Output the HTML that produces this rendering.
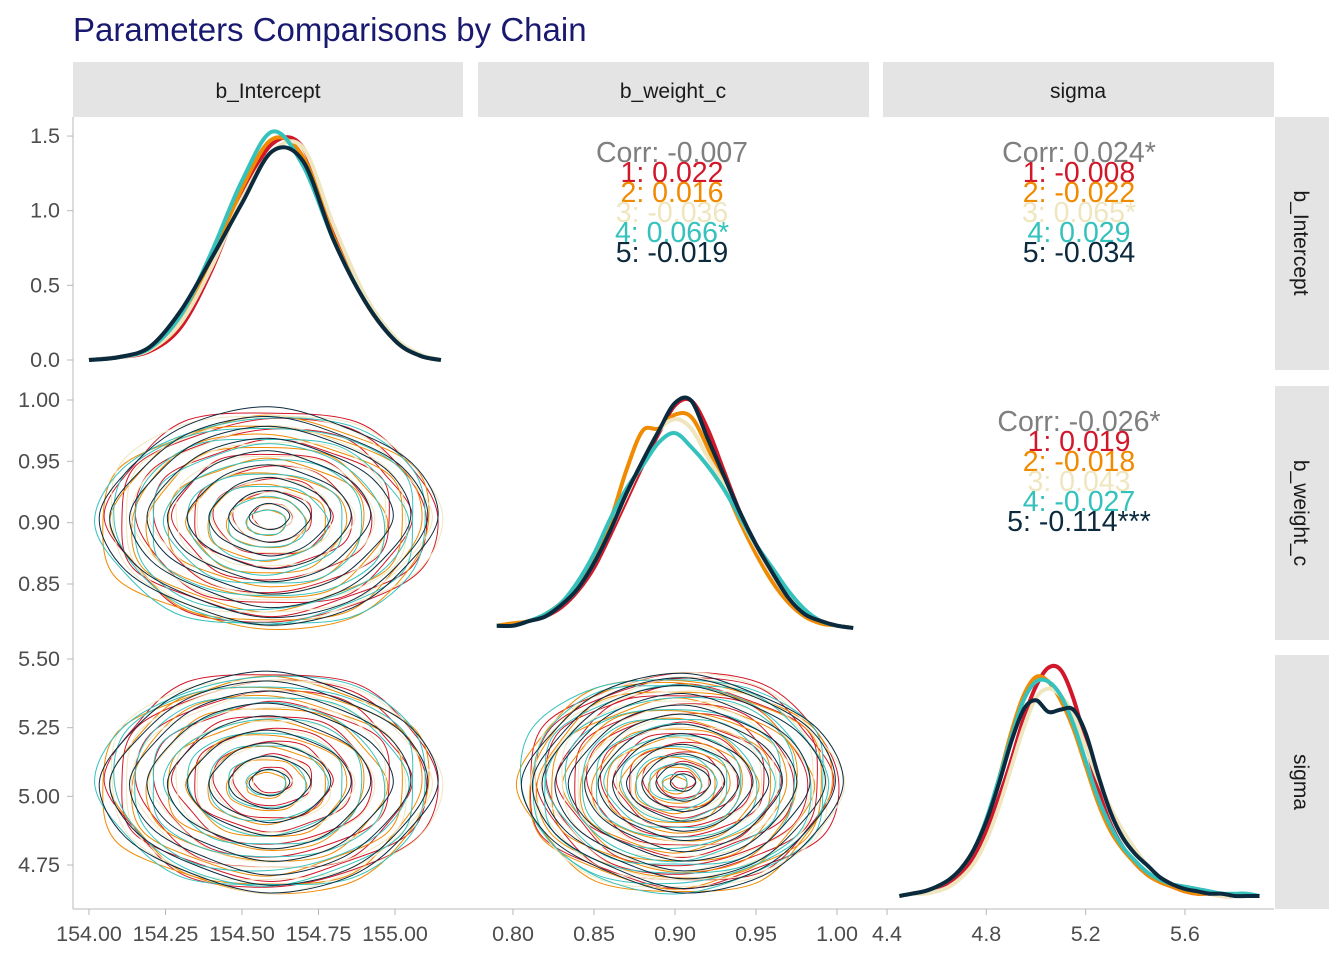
<!DOCTYPE html>
<html><head><meta charset="utf-8">
<style>
html,body{margin:0;padding:0;background:#fff;}
svg{display:block;font-family:"Liberation Sans",Arial,sans-serif;}
</style></head>
<body>
<svg id="chart" width="1344" height="960" viewBox="0 0 1344 960">
<text x="73" y="41" font-size="33" fill="#191970">Parameters Comparisons by Chain</text>
<g id="strips">
 <rect x="73" y="62" width="390" height="55" fill="#e4e4e4"/>
 <text x="268" y="98" font-size="21" text-anchor="middle" fill="#1a1a1a">b_Intercept</text>
 <rect x="478" y="62" width="391" height="55" fill="#e4e4e4"/>
 <text x="673" y="98" font-size="21" text-anchor="middle" fill="#1a1a1a">b_weight_c</text>
 <rect x="883" y="62" width="391" height="55" fill="#e4e4e4"/>
 <text x="1078" y="98" font-size="21" text-anchor="middle" fill="#1a1a1a">sigma</text>
 <rect x="1275" y="117" width="54" height="253" fill="#e4e4e4"/>
 <text transform="translate(1294,243) rotate(90)" font-size="21" text-anchor="middle" fill="#1a1a1a">b_Intercept</text>
 <rect x="1275" y="386" width="54" height="254" fill="#e4e4e4"/>
 <text transform="translate(1294,513) rotate(90)" font-size="21" text-anchor="middle" fill="#1a1a1a">b_weight_c</text>
 <rect x="1275" y="655" width="54" height="254" fill="#e4e4e4"/>
 <text transform="translate(1294,782) rotate(90)" font-size="21" text-anchor="middle" fill="#1a1a1a">sigma</text>
</g>
<g id="axes">
 <line x1="73" y1="117" x2="73" y2="909" stroke="#b8b8b8" stroke-width="1"/>
 <line x1="73" y1="909" x2="1274" y2="909" stroke="#b8b8b8" stroke-width="1"/>
</g>
<g id="marks"></g>
<g id="ticks"></g>
<g id="corr"></g>
</svg>
<script>
const chainColors=['#D2172A','#F08A00','#EFE6C0','#35C2BD','#0C2A3E'];
// b_Intercept density
const dxInt=[154.0,154.1,154.2,154.3,154.4,154.5,154.6,154.7,154.8,154.9,155.0,155.08,155.15];
const dInt1=[0,0.02,0.06,0.22,0.6,1.1,1.45,1.42,0.85,0.4,0.13,0.03,0];
const dInt2=[0,0.02,0.07,0.25,0.65,1.15,1.48,1.36,0.82,0.4,0.13,0.03,0];
const dInt3=[0,0.02,0.07,0.25,0.62,1.08,1.4,1.42,0.9,0.44,0.15,0.04,0];
const dInt4=[0,0.02,0.08,0.3,0.72,1.2,1.53,1.3,0.8,0.4,0.13,0.03,0];
const dInt5=[0,0.02,0.09,0.33,0.68,1.05,1.4,1.33,0.8,0.4,0.13,0.03,0];
// b_weight_c density (normalized)
const dxW=[0.79,0.80,0.81,0.82,0.83,0.84,0.85,0.86,0.87,0.88,0.89,0.90,0.91,0.92,0.93,0.94,0.95,0.96,0.97,0.98,0.99,1.00,1.01];
const dW1=[0.01,0.01,0.03,0.05,0.09,0.16,0.26,0.4,0.55,0.7,0.84,0.96,0.98,0.86,0.68,0.5,0.35,0.22,0.12,0.06,0.03,0.01,0];
const dW2=[0.01,0.02,0.03,0.06,0.11,0.19,0.3,0.46,0.68,0.85,0.86,0.92,0.91,0.78,0.62,0.46,0.32,0.2,0.11,0.05,0.02,0.01,0];
const dW3=[0.01,0.01,0.03,0.05,0.1,0.17,0.28,0.42,0.57,0.72,0.85,0.9,0.86,0.74,0.62,0.48,0.35,0.23,0.13,0.06,0.03,0.01,0];
const dW4=[0.01,0.01,0.03,0.06,0.11,0.2,0.32,0.47,0.6,0.7,0.8,0.84,0.78,0.7,0.6,0.48,0.36,0.26,0.16,0.08,0.03,0.01,0];
const dW5=[0.01,0.01,0.03,0.05,0.1,0.17,0.28,0.42,0.58,0.72,0.85,0.97,0.98,0.82,0.66,0.5,0.36,0.24,0.13,0.06,0.03,0.01,0];
// sigma density (normalized)
const dxS=[4.45,4.5,4.55,4.6,4.65,4.7,4.75,4.8,4.85,4.9,4.95,5.0,5.05,5.1,5.15,5.2,5.25,5.3,5.35,5.4,5.45,5.5,5.55,5.6,5.65,5.7,5.75,5.8,5.85,5.9];
const dS1=[0,0.01,0.02,0.03,0.06,0.1,0.17,0.28,0.42,0.58,0.76,0.9,0.98,0.97,0.85,0.66,0.46,0.31,0.21,0.14,0.09,0.06,0.04,0.02,0.01,0.01,0,0,0,0];
const dS2=[0,0.01,0.02,0.04,0.07,0.12,0.2,0.32,0.5,0.7,0.86,0.94,0.92,0.84,0.72,0.56,0.4,0.28,0.2,0.14,0.09,0.06,0.04,0.02,0.01,0.01,0,0,0,0];
const dS3=[0,0.01,0.01,0.02,0.04,0.08,0.14,0.24,0.38,0.55,0.72,0.85,0.89,0.86,0.78,0.64,0.5,0.38,0.28,0.2,0.13,0.08,0.05,0.03,0.02,0.01,0,0,0,0];
const dS4=[0,0.01,0.02,0.04,0.07,0.12,0.2,0.33,0.5,0.68,0.84,0.92,0.92,0.86,0.74,0.58,0.42,0.3,0.21,0.15,0.1,0.07,0.05,0.04,0.03,0.02,0.01,0.01,0.01,0];
const dS5=[0,0.01,0.02,0.04,0.07,0.12,0.2,0.32,0.48,0.66,0.8,0.84,0.79,0.8,0.8,0.7,0.52,0.36,0.25,0.18,0.13,0.08,0.05,0.03,0.02,0.01,0.01,0,0,0];
// contour centers per chain
const ctrInt=[154.6,154.58,154.6,154.58,154.59];
const ctrW=[0.905,0.9,0.905,0.9,0.905];
const ctrS=[5.06,5.04,5.05,5.05,5.05];
const ringLevels=[0.12,0.24,0.36,0.48,0.6,0.72,0.83,0.93,1.0];
const ringLevelsDense=[0.08,0.17,0.26,0.35,0.44,0.53,0.62,0.71,0.8,0.88,0.95,1.0];
const halfInt=0.54, halfW=0.086, halfS=0.39, halfW2=0.096;
const wob=[[1,0.96,1.03,0.98,1.05,0.97,1.02,0.95,1.04,1.0,0.97,1.03],
[0.98,1.04,0.97,1.02,0.95,1.03,0.99,1.05,0.96,1.01,1.04,0.97],
[1.03,0.98,1.01,0.95,1.02,1.05,0.97,1.0,0.98,1.04,0.96,1.02],
[0.96,1.02,1.05,0.99,0.97,1.01,1.04,0.98,1.02,0.95,1.03,1.0],
[1.02,1.0,0.96,1.04,1.0,0.96,1.03,1.01,0.97,1.03,1.0,0.95]];
// correlations
const corrTop=['Corr: -0.007','1: 0.022','2: 0.016','3: -0.036','4: 0.066*','5: -0.019'];
const corrTopR=['Corr: 0.024*','1: -0.008','2: -0.022','3: 0.065*','4: 0.029','5: -0.034'];
const corrMid=['Corr: -0.026*','1: 0.019','2: -0.018','3: 0.043','4: -0.027','5: -0.114***'];
const ticksInt=[154.00,154.25,154.50,154.75,155.00];
const ticksW=[0.80,0.85,0.90,0.95,1.00];
const ticksS=[4.4,4.8,5.2,5.6];
const yTicks1=[0.0,0.5,1.0,1.5];
const yTicks2=[0.85,0.90,0.95,1.00];
const yTicks3=[4.75,5.00,5.25,5.50];

const c1x=v=>89+(v-154)*306, c2x=v=>513+(v-0.8)*1620, c3x=v=>887+(v-4.4)*248.3;
const r1y=v=>360-v*149.3, r2y=v=>400+(1-v)*1226.7, r3y=v=>659+(5.5-v)*274.7;
const dg2=d=>628-d*232, dg3=d=>896-d*233;
const NS='http://www.w3.org/2000/svg';
const marks=document.getElementById('marks'), tk=document.getElementById('ticks'), cg=document.getElementById('corr');
function mk(tag,attrs,parent){const e=document.createElementNS(NS,tag);for(const k in attrs)e.setAttribute(k,attrs[k]);parent.appendChild(e);return e;}
function smooth(p,closed){
 const n=p.length;let d='M'+p[0][0].toFixed(1)+','+p[0][1].toFixed(1);
 const g=i=>closed?p[(i+n)%n]:p[Math.max(0,Math.min(n-1,i))];
 const m=closed?n:n-1;
 for(let i=0;i<m;i++){const a=g(i-1),b=g(i),c=g(i+1),e=g(i+2);
  d+='C'+(b[0]+(c[0]-a[0])/6).toFixed(1)+','+(b[1]+(c[1]-a[1])/6).toFixed(1)+' '+(c[0]-(e[0]-b[0])/6).toFixed(1)+','+(c[1]-(e[1]-b[1])/6).toFixed(1)+' '+c[0].toFixed(1)+','+c[1].toFixed(1);}
 return d+(closed?'Z':'');
}
function density(xs,series,fx,fy,name){
 series.forEach((s,i)=>{
  const p=mk('path',{d:smooth(xs.map((x,j)=>[fx(x),fy(s[j])]),false),fill:'none',stroke:chainColors[i],'stroke-width':4,'stroke-linejoin':'round'},marks);
  
  
 });
}
density(dxInt,[dInt1,dInt2,dInt3,dInt4,dInt5],c1x,r1y,'density-b-intercept');
density(dxW,[dW1,dW2,dW3,dW4,dW5],c2x,dg2,'density-b-weight-c');
density(dxS,[dS1,dS2,dS3,dS4,dS5],c3x,dg3,'density-sigma');
function contours(cx,cy,hx,hy,fx,fy,levels,name){
 for(let i=0;i<5;i++){
  levels.forEach((lv,r)=>{
   const pts=[];
   for(let k=0;k<12;k++){const a=k*Math.PI/6;const w=wob[i][(k+r*3)%12];
    pts.push([fx(cx[i]+Math.cos(a)*hx*lv*w),fy(cy[i]+Math.sin(a)*hy*lv*w)]);}
   const p=mk('path',{d:smooth(pts,true),fill:'none',stroke:chainColors[i],'stroke-width':1},marks);
   
   
  });
 }
}
contours(ctrInt,ctrW,halfInt,halfW,c1x,r2y,ringLevels,'contour-intercept-weight');
contours(ctrInt,ctrS,halfInt,halfS,c1x,r3y,ringLevels,'contour-intercept-sigma');
contours(ctrW,ctrS,halfW2,halfS,c2x,r3y,ringLevelsDense,'contour-weight-sigma');
function corrBlock(lines,x,y,name){
 lines.forEach((t,i)=>{
  const e=mk('text',{x:x,y:y+i*20,'font-size':28.5,'text-anchor':'middle',fill:i===0?'#7f7f7f':chainColors[i-1]},cg);
  e.textContent=t;
  
  
 });
}
corrBlock(corrTop,672,162,'corr-intercept-weight');
corrBlock(corrTopR,1079,162,'corr-intercept-sigma');
corrBlock(corrMid,1079,431,'corr-weight-sigma');
function xTicks(vals,fx,dec){
 vals.forEach(v=>{
  const l=mk('line',{x1:fx(v),x2:fx(v),y1:909,y2:915,stroke:'#b8b8b8'},tk);
  
  
  const t=mk('text',{x:fx(v),y:941,'font-size':21.5,'text-anchor':'middle',fill:'#4d4d4d'},tk);
  t.textContent=v.toFixed(dec);
  
  
 });
}
xTicks(ticksInt,c1x,2);xTicks(ticksW,c2x,2);xTicks(ticksS,c3x,1);
function yTicks(vals,fy,dec){
 vals.forEach(v=>{
  const l=mk('line',{x1:67,x2:73,y1:fy(v),y2:fy(v),stroke:'#b8b8b8'},tk);
  
  
  const t=mk('text',{x:60,y:fy(v)+7,'font-size':21.5,'text-anchor':'end',fill:'#4d4d4d'},tk);
  t.textContent=v.toFixed(dec);
  
  
 });
}
yTicks(yTicks1,r1y,1);yTicks(yTicks2,r2y,2);yTicks(yTicks3,r3y,2);
</script>
</body></html>
